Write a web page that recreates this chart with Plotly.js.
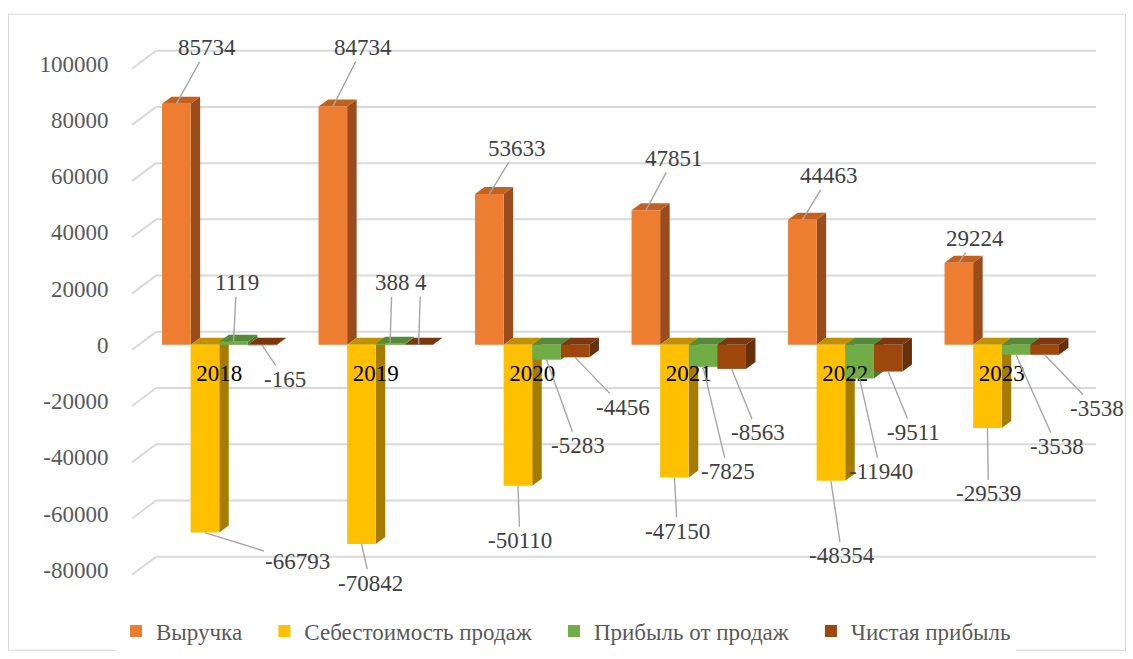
<!DOCTYPE html>
<html>
<head>
<meta charset="utf-8">
<script src="https://cdn.plot.ly/plotly-3.0.1.min.js"></script>
<style>
  html, body { margin: 0; padding: 0; background: #fff; }
  #chart { width: 1133px; height: 659px; }
</style>
</head>
<body>
<div id="chart"></div>
<script>
// ---- data ----
const years = ['2018', '2019', '2020', '2021', '2022', '2023'];
const revenue = [85734, 84734, 53633, 47851, 44463, 29224];
const costOfSales = [-66793, -70842, -50110, -47150, -48354, -29539];
const salesProfit = [1119, 388, -5283, -7825, -11940, -3538];
const netProfit = [-165, 4, -4456, -8563, -9511, -3538];
const seriesNames = ['Выручка', 'Себестоимость продаж', 'Прибыль от продаж', 'Чистая прибыль'];
const yTicks = [-80000, -60000, -40000, -20000, 0, 20000, 40000, 60000, 80000, 100000];

// ---- styling ----
const W = 1133, H = 659;
const FONT = 'Liberation Serif, Times New Roman, serif';
const frontColors = ['#ed7d31', '#ffc000', '#70ad47', '#9e480e'];
const sideColors  = ['#9a4c1c', '#a67c00', '#4c7a30', '#66300a'];
const topColors   = ['#c3621f', '#c29100', '#578a38', '#7a380c'];
const LEGEND_PAD = '\u00a0\u00a0\u00a0';   // extra room after each legend entry

// data-label placement, pixel offsets of each label from the end of its bar
const labelOffsets = [
  [[31, -56], [30, -59], [28, -46], [28, -52], [27, -44], [16, -24]],
  [[93, 29], [9, 39], [2, 55], [3, 54], [11, 75], [1, 66]],
  [[3, -59], [2, -61], [31, 86], [25, 105], [21, 93], [41, 92]],
  [[23, 34], [2, -62], [48, 50], [26, 64], [25, 61], [52, 54]]
];

// ---- geometry of the plotting box ----
const ZERO_PX = 345.1;          // pixel row of the value 0
const PX_PER_UNIT = 0.0028111;  // vertical pixels per unit
const CAT_PX = 156.5;           // pixels between category centres
const FIRST_CAT_PX = 219.25;    // pixel column of the first category
const L = 122, R = 1104;
const yRange = [-84000, 107000];
const marginTop = ZERO_PX - yRange[1] * PX_PER_UNIT;
const marginBottom = H - (ZERO_PX - yRange[0] * PX_PER_UNIT);
const xRange = [(L - FIRST_CAT_PX) / CAT_PX, (R - FIRST_CAT_PX) / CAT_PX];

const BARGAP = 0.269;
const nSeries = 4;
const barW = (1 - BARGAP) / nSeries;
const DX = 9.5 / CAT_PX;            // depth of the bars, horizontal
const DY = 7 / PX_PER_UNIT;         // depth of the bars, vertical
const xAt = px => (px - FIRST_CAT_PX) / CAT_PX;
const dyPx = px => px / PX_PER_UNIT;

const series = [revenue, costOfSales, salesProfit, netProfit];
const xIdx = years.map((_, i) => i);

const traces = series.map((vals, k) => ({
  type: 'bar',
  name: seriesNames[k] + (k < nSeries - 1 ? LEGEND_PAD : ''),
  x: xIdx,
  y: vals,
  marker: { color: frontColors[k], line: { width: 0 } },
  hoverinfo: 'y'
}));

const shapes = [];

// back wall gridlines with a short slanted run on the side wall
yTicks.forEach(t => {
  shapes.push({
    type: 'line', layer: 'below', xref: 'x', yref: 'y',
    x0: xAt(156), x1: xAt(1096), y0: t + dyPx(13), y1: t + dyPx(13),
    line: { color: '#d9d9d9', width: 2 }
  });
  shapes.push({
    type: 'line', layer: 'below', xref: 'x', yref: 'y',
    x0: xAt(132), x1: xAt(156), y0: t - dyPx(5), y1: t + dyPx(13),
    line: { color: '#d9d9d9', width: 2 }
  });
});

// side and top faces give each bar its depth
series.forEach((vals, k) => {
  vals.forEach((v, i) => {
    const xl = i + (k - (nSeries - 1) / 2) * barW - barW / 2;
    const xr = xl + barW;
    const lo = Math.min(v, 0), hi = Math.max(v, 0);
    shapes.push({
      type: 'path', layer: 'below', xref: 'x', yref: 'y',
      path: `M${xr},${lo} L${xr + DX},${lo + DY} L${xr + DX},${hi + DY} L${xr},${hi} Z`,
      fillcolor: sideColors[k], line: { width: 0 }
    });
    shapes.push({
      type: 'path', layer: 'below', xref: 'x', yref: 'y',
      path: `M${xl},${hi} L${xl + DX},${hi + DY} L${xr + DX},${hi + DY} L${xr},${hi} Z`,
      fillcolor: topColors[k], line: { width: 0 }
    });
  });
});

// chart frame
const paperX = px => (px - L) / (R - L);
const plotH = H - marginTop - marginBottom;
const paperY = py => (H - marginBottom - py) / plotH;
shapes.push({
  type: 'rect', xref: 'paper', yref: 'paper',
  x0: paperX(8.5), x1: paperX(1125.5), y0: paperY(650.5), y1: paperY(14.5),
  line: { color: '#d9d9d9', width: 1 }, fillcolor: 'rgba(0,0,0,0)'
});

// value labels with leader lines
const annotations = [];
series.forEach((vals, k) => {
  vals.forEach((v, i) => {
    const [ax, ay] = labelOffsets[k][i];
    annotations.push({
      x: i + (k - (nSeries - 1) / 2) * barW,
      y: v,
      xref: 'x', yref: 'y',
      text: String(v),
      showarrow: true, arrowhead: 0, arrowwidth: 1.4, arrowcolor: '#a6a6a6',
      ax: ax, ay: ay, standoff: 0,
      font: { family: FONT, size: 23, color: '#404040' }
    });
  });
});

const layout = {
  width: W, height: H,
  paper_bgcolor: '#ffffff', plot_bgcolor: 'rgba(0,0,0,0)',
  margin: { l: L, r: W - R, t: marginTop, b: marginBottom },
  font: { family: FONT, size: 23, color: '#595959' },
  barmode: 'group', bargap: BARGAP, bargroupgap: 0,
  showlegend: true,
  legend: {
    orientation: 'h', xref: 'container', yref: 'container',
    x: 566 / W, xanchor: 'center', y: 1 - 631 / H, yanchor: 'middle',
    font: { family: FONT, size: 23, color: '#595959' },
    itemwidth: 30, traceorder: 'normal'
  },
  xaxis: {
    type: 'linear', range: xRange,
    tickvals: xIdx, ticktext: years,
    anchor: 'free', position: (0 - yRange[0]) / (yRange[1] - yRange[0]),
    showgrid: false, zeroline: false, showline: false, ticks: '',
    ticklabelstandoff: 12,
    tickfont: { family: FONT, size: 23, color: '#000000' },
    fixedrange: true
  },
  yaxis: {
    range: yRange, tickvals: yTicks, ticktext: yTicks.map(String),
    showgrid: false, zeroline: false, showline: false,
    ticks: 'outside', ticklen: 8, tickcolor: 'rgba(0,0,0,0)',
    tickfont: { family: FONT, size: 23, color: '#595959' },
    fixedrange: true
  },
  shapes: shapes,
  annotations: annotations
};

Plotly.newPlot('chart', traces, layout, { displayModeBar: false, staticPlot: true });
</script>
</body>
</html>
